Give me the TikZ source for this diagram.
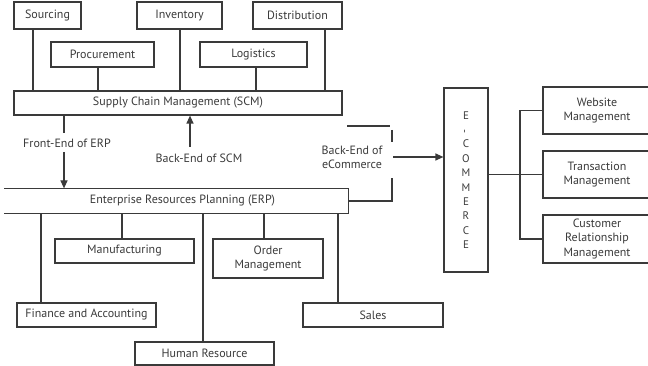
\documentclass[tikz,border=0pt]{standalone}
\usepackage{fontspec}
\setmainfont{PT Sans}
\usepackage{graphicx}
\usetikzlibrary{arrows.meta}
\definecolor{ink}{HTML}{3A3A3A}
\begin{document}
\begin{tikzpicture}[x=1pt,y=-1pt,
  txt/.style={text=ink, align=center, font=\fontsize{12}{14.2}\selectfont},
  box/.style={txt, draw=ink, line width=1.2pt, inner sep=0pt},
  link/.style={draw=ink, line width=1.2pt},
  arr/.style={link, -{Triangle[length=8pt,width=7pt]}},
  lbl/.style={txt, inner sep=0pt}]
\useasboundingbox (0,0) rectangle (648,366);
\clip (0,0) rectangle (648,366);

% supply chain functions
\node[box, minimum width=67pt,  minimum height=27pt] (src)  at (47.5,15.5)  {Sourcing};
\node[box, minimum width=85pt,  minimum height=27pt] (inv)  at (179.5,15.5) {Inventory};
\node[box, minimum width=89pt,  minimum height=27pt] (dist) at (297.5,15.5) {Distribution};
\node[box, minimum width=103pt, minimum height=25pt] (proc) at (102.5,54.5) {Procurement};
\node[box, minimum width=107pt, minimum height=25pt] (logi) at (253.5,54.5) {Logistics};
\node[box, minimum width=328pt, minimum height=24pt] (scm)  at (178,103)    {Supply Chain Management (SCM)};

% ERP bar, open on the left
\node[box, draw=none, minimum width=343pt, minimum height=24pt] (erp) at (176.5,201) {\hspace*{12pt}Enterprise Resources Planning (ERP)};
\draw[link] (erp.north west) -- (erp.north east) -- (erp.south east) -- (erp.south west);

% ERP modules
\node[box, minimum width=139pt, minimum height=24pt] (manu)  at (124.5,251) {Manufacturing};
\node[box, minimum width=110pt, minimum height=39pt] (order) at (268,258.5) {Order\\Management};
\node[box, minimum width=139pt, minimum height=24pt] (fin)   at (86.5,315)  {Finance and Accounting};
\node[box, minimum width=140pt, minimum height=24pt] (sales) at (373,315)   {Sales};
\node[box, minimum width=139pt, minimum height=23pt] (hr)    at (204.5,353.5) {Human Resource};

% e-commerce column and its areas
\node[box, minimum width=44pt, minimum height=184pt, font=\fontsize{11}{14.4}\selectfont] (ecom) at (466,180)
  {E\\\rotatebox{90}{-}\\C\\O\\M\\M\\E\\R\\C\\E};
\node[box, minimum width=108pt, minimum height=47pt] (web)   at (597,110.5) {Website\\Management};
\node[box, minimum width=108pt, minimum height=47pt] (trans) at (597,174.5) {Transaction\\Management};
\node[box, minimum width=108pt, minimum height=48pt] (crm)   at (597,239)   {Customer\\Relationship\\Management};

% drop points on the shared bars
\coordinate (xsrc)  at (33,0);
\coordinate (xproc) at (98,0);
\coordinate (xinv)  at (180,0);
\coordinate (xlogi) at (256,0);
\coordinate (xdist) at (325,0);
\coordinate (xfin)  at (41,0);
\coordinate (xmanu) at (122,0);
\coordinate (xhr)   at (203,0);
\coordinate (xord)  at (264,0);
\coordinate (xsal)  at (338,0);

\foreach \n/\x in {src/xsrc, proc/xproc, inv/xinv, logi/xlogi, dist/xdist}
  \draw[link] (\n.south -| \x) -- (scm.north -| \x);
\foreach \n/\x in {fin/xfin, manu/xmanu, hr/xhr, order/xord, sales/xsal}
  \draw[link] (erp.south -| \x) -- (\n.north -| \x);

% SCM <-> ERP
\node[lbl] (fe) at (67,143) {Front-End of ERP};
\coordinate (fe1) at (64,133);
\coordinate (fe2) at (64,152);
\draw[link] (scm.south -| fe1) -- (fe1);
\draw[arr] (fe2) -- (erp.north -| fe2);

\node[lbl] (be) at (199,158.5) {Back-End of SCM};
\coordinate (be1) at (190,147);
\draw[arr] (be1) -- (scm.south -| be1);

% ERP -> e-commerce
\node[lbl] (bec) at (352,157) {Back-End of\\eCommerce};
\coordinate (t1) at (347,126);
\coordinate (t2) at (390,126);
\coordinate (v1) at (392,130);
\coordinate (v2) at (392,142);
\coordinate (v3) at (392,178);
\coordinate (v4) at (392,201);
\coordinate (a1) at (393,157);
\draw[link] (t1) -- (t2);
\draw[link] (v1) -- (v2);
\draw[link] (erp.east) -- (v4) -- (v3);
\draw[arr] (a1) -- (ecom.west |- a1);

% e-commerce fan-out
\coordinate (bus) at (520,174.5);
\draw[link] (ecom.east |- trans.west) -- (trans.west);
\draw[link] (web.west) -- (web.west -| bus) -- (crm.west -| bus) -- (crm.west);
\end{tikzpicture}
\end{document}
